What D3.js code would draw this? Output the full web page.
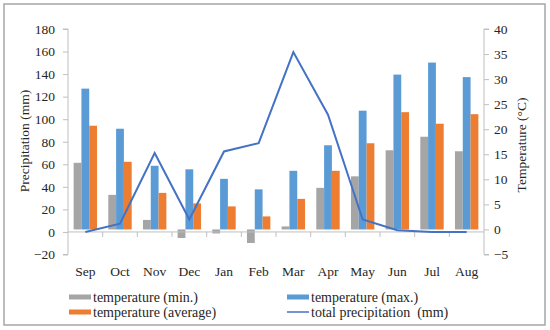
<!DOCTYPE html>
<html>
<head>
<meta charset="utf-8">
<script src="https://cdn.jsdelivr.net/npm/d3@7/dist/d3.min.js"></script>
<style>
  body { margin: 0; background: #fff; }
  text { font-family: "Times New Roman", "Liberation Serif", Tinos, Times, serif; fill: #262626; }
</style>
</head>
<body>
<svg width="550" height="330"></svg>
<script>
// chart data
let months = ["Sep", "Oct", "Nov", "Dec", "Jan", "Feb", "Mar", "Apr", "May", "Jun", "Jul", "Aug"]
let tempMin = [13.3, 6.9, 1.9, -1.7, -0.8, -2.7, 0.6, 8.3, 10.6, 15.8, 18.5, 15.6]
let tempMax = [28.1, 20.1, 12.7, 12.0, 10.1, 8.0, 11.7, 16.8, 23.7, 30.9, 33.3, 30.4]
let tempAvg = [20.7, 13.5, 7.3, 5.2, 4.6, 2.6, 6.1, 11.7, 17.2, 23.4, 21.1, 23.0]
let precip = [0, 7.3, 70, 11, 71.4, 78.8, 159.5, 104, 11, 1.5, 0, 0]
let leftTicks = [-20, 0, 20, 40, 60, 80, 100, 120, 140, 160, 180]
let rightTicks = [-5, 0, 5, 10, 15, 20, 25, 30, 35, 40]
let seriesNames = ["temperature (min.)", "temperature (max.)", "temperature (average)", "total precipitation  (mm)"]
let colors = ["#a5a5a5", "#5b9bd5", "#ed7d31", "#4472c4"]

let fontStack = '"Times New Roman", "Liberation Serif", Tinos, Times, serif'
let svg = d3.select("svg")
// outer frame
svg.append("rect").attr("x", 4).attr("y", 4).attr("width", 541).attr("height", 321)
    .attr("fill", "none").attr("stroke", "#a6a6a6").attr("stroke-width", 1.5)

let pLeft = 68, pRight = 484, pTop = 29, pBottom = 254.5

let x = d3.scaleBand().domain(months).range([pLeft, pRight])
let yL = d3.scaleLinear().domain([-20, 180]).range([pBottom, pTop])
let yR = d3.scaleLinear().domain([-5, 40]).range([pBottom, pTop])

let barW = x.bandwidth() * 0.225
let sets = [tempMin, tempMax, tempAvg]

// bars (secondary axis)
sets.forEach((vals, si) => {
    svg.append("g").selectAll("rect").data(vals).enter().append("rect")
        .attr("x", (d, i) => x(months[i]) + x.bandwidth() / 2 - 1.5 * barW + si * barW)
        .attr("y", d => yR(Math.max(0, d)))
        .attr("width", barW)
        .attr("height", d => Math.abs(yR(d) - yR(0)))
        .attr("fill", colors[si])
})

// axes
let axisColor = "#bfbfbf"
let gl = svg.append("g").attr("transform", `translate(${pLeft},0)`)
    .call(d3.axisLeft(yL).tickValues(leftTicks).tickSize(5).tickPadding(8))
let gr = svg.append("g").attr("transform", `translate(${pRight},0)`)
    .call(d3.axisRight(yR).tickValues(rightTicks).tickSize(5).tickPadding(5))
let gx = svg.append("g").attr("transform", `translate(0,${yL(0)})`)
    .call(d3.axisBottom(x).tickSize(0).tickPadding(34))
// category boundary ticks
svg.append("g").selectAll("line").data(months.slice(1)).enter().append("line")
    .attr("x1", d => x(d)).attr("x2", d => x(d))
    .attr("y1", yL(0)).attr("y2", yL(0) + 5)
    .attr("stroke", axisColor)

;[gl, gr, gx].forEach(g => {
    g.attr("font-family", fontStack)
    g.select(".domain").attr("stroke", axisColor)
    g.selectAll(".tick line").attr("stroke", axisColor)
    g.selectAll("text").style("font-size", "13.5px").attr("fill", "#262626")
        .style("font-family", fontStack)
})
gl.select(".domain").attr("d", `M-5,${pTop}H0V${pBottom}H-5`)
gr.select(".domain").attr("d", `M5,${pTop}H0V${pBottom}H5`)
gx.select(".domain").attr("d", `M${pLeft},0H${pRight}`)

// precipitation line (primary axis)
let line = d3.line()
    .x((d, i) => x(months[i]) + x.bandwidth() / 2)
    .y(d => yL(d))
svg.append("path").datum(precip).attr("d", line)
    .attr("fill", "none").attr("stroke", colors[3]).attr("stroke-width", 2)

// axis titles
svg.append("text").attr("transform", `translate(29,141) rotate(-90)`)
    .attr("text-anchor", "middle").style("font-size", "13.5px").text("Precipitation (mm)")
svg.append("text").attr("transform", `translate(526,145) rotate(-90)`)
    .attr("text-anchor", "middle").style("font-size", "13.5px").text("Temperature (°C)")

// legend
let legPos = [[69, 297], [287, 297], [69, 312], [287, 312]]
seriesNames.forEach((name, i) => {
    let g = svg.append("g").attr("transform", `translate(${legPos[i][0]},${legPos[i][1]})`)
    if (i < 3) {
        g.append("rect").attr("x", 0).attr("y", -2.5).attr("width", 22).attr("height", 5).attr("fill", colors[i])
    } else {
        g.append("line").attr("x1", 0).attr("x2", 22).attr("y1", 0).attr("y2", 0)
            .attr("stroke", colors[i]).attr("stroke-width", 1.5)
    }
    g.append("text").attr("x", 24).attr("y", 4.5).style("font-size", "14px")
        .style("white-space", "pre").text(name)
})
</script>
</body>
</html>
